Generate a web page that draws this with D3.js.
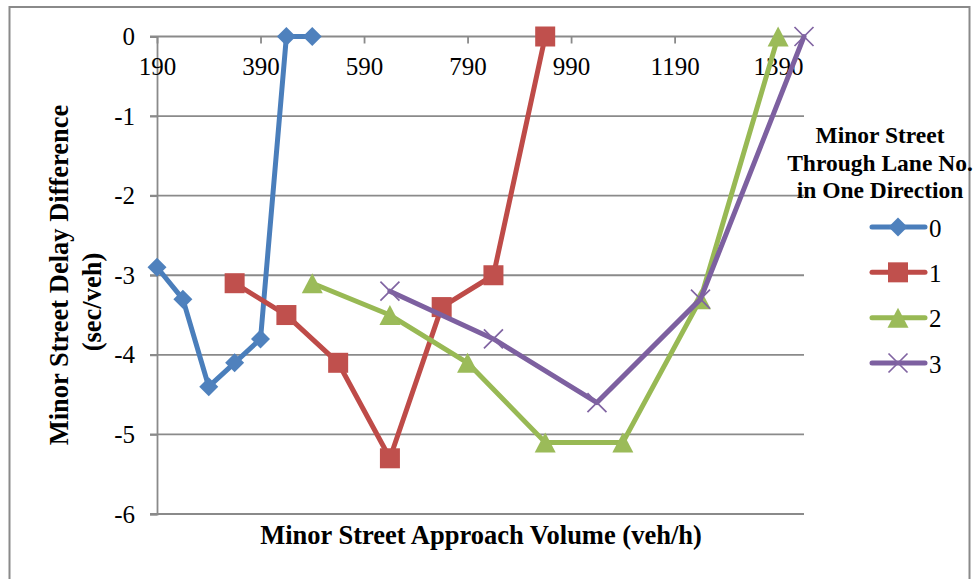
<!DOCTYPE html>
<html><head><meta charset="utf-8">
<script src="https://cdn.jsdelivr.net/npm/d3@7/dist/d3.min.js"></script>
<style>
html,body{margin:0;padding:0;background:#fff;}
svg{display:block;}
text{font-family:"Liberation Serif","Times New Roman",serif;fill:#000;}
</style></head>
<body>
<svg id="chart" width="977" height="579"></svg>
<script>
// ---- data ----
const seriesNames = ["0", "1", "2", "3"];
const x0 = [190, 240, 290, 340, 390, 440, 490];
const y0 = [-2.9, -3.3, -4.4, -4.1, -3.8, 0, 0];
const x1 = [340, 440, 540, 640, 740, 840, 940];
const y1 = [-3.1, -3.5, -4.1, -5.3, -3.4, -3.0, 0];
const x2 = [490, 640, 790, 940, 1090, 1240, 1390];
const y2 = [-3.1, -3.5, -4.1, -5.1, -5.1, -3.3, 0];
const x3 = [640, 840, 1040, 1240, 1440];
const y3 = [-3.2, -3.8, -4.6, -3.3, 0];
const xTicks = [190, 390, 590, 790, 990, 1190, 1390];
const yTicks = [0, -1, -2, -3, -4, -5, -6];
const xTitle = "Minor Street Approach Volume (veh/h)";
const yTitle1 = "Minor Street Delay Difference";
const yTitle2 = "(sec/veh)";
const legendTitle = ["Minor Street", "Through Lane No.", "in One Direction"];

const lineColors = ["#4a7ebb", "#be4b48", "#98b954", "#7d60a0"];
const markColors = ["#4f81bd", "#c0504d", "#9bbb59", "#8064a2"];
const markerTypes = ["diamond", "square", "triangle", "x"];

const series = [[x0,y0],[x1,y1],[x2,y2],[x3,y3]].map((p,i)=>({
  name: seriesNames[i],
  pts: p[0].map((x,j)=>({x, y: p[1][j]}))
}));

const svg = d3.select("#chart");
const gridColor = "#8a8a8a";

// outer border
svg.append("rect").attr("x",9.5).attr("y",7).attr("width",960).attr("height",600)
  .attr("fill","none").attr("stroke","#8a8a8a").attr("stroke-width",2);

const xScale = d3.scaleLinear().domain([190, 1440]).range([157, 804]);
const yScale = d3.scaleLinear().domain([-6, 0]).range([514, 36.5]);

// horizontal gridlines (with outward ticks on the left)
svg.append("g").selectAll("line").data(yTicks.filter(v=>v!==0)).join("line")
  .attr("x1", 150).attr("x2", xScale(1440))
  .attr("y1", d=>yScale(d)).attr("y2", d=>yScale(d))
  .attr("stroke", gridColor).attr("stroke-width", 1.8);

const fmt = d => String(d);

// y axis
const yAxis = d3.axisLeft(yScale).tickValues(yTicks).tickSize(7).tickPadding(15).tickFormat(fmt);
const gy = svg.append("g").attr("transform", `translate(${xScale(190)},0)`).call(yAxis);
gy.select(".domain").attr("stroke", gridColor).attr("stroke-width", 1.8);
gy.selectAll(".tick line").attr("stroke", gridColor).attr("stroke-width", 1.8);
gy.selectAll(".tick text").attr("font-size", 25).attr("font-family", "Liberation Serif").attr("fill","#000");

// x axis at y=0 with ticks pointing down
const xAxis = d3.axisBottom(xScale).tickValues(xTicks).tickSize(7).tickPadding(14).tickFormat(fmt);
const gx = svg.append("g").attr("transform", `translate(0,${yScale(0)})`).call(xAxis);
gx.select(".domain").attr("stroke", gridColor).attr("stroke-width", 1.8)
  .attr("d", `M${150},0H${xScale(1440)}`);
gx.selectAll(".tick line").attr("stroke", gridColor).attr("stroke-width", 1.8);
gx.selectAll(".tick text").attr("font-size", 25).attr("font-family", "Liberation Serif").attr("fill","#000");

// axis titles
svg.append("text").attr("x", 481).attr("y", 535).attr("text-anchor","middle")
  .attr("dominant-baseline","central").attr("font-size", 26.5).attr("font-weight","bold").text(xTitle);
svg.append("text").attr("transform","translate(59,275) rotate(-90)").attr("text-anchor","middle")
  .attr("dominant-baseline","central").attr("font-size", 26.5).attr("font-weight","bold").text(yTitle1);
svg.append("text").attr("transform","translate(92,302) rotate(-90)").attr("text-anchor","middle")
  .attr("dominant-baseline","central").attr("font-size", 26.5).attr("font-weight","bold").text(yTitle2);

// marker drawing
function drawMarker(g, type, color, cx, cy) {
  if (type === "diamond") {
    const s = 9.5;
    g.append("path").attr("d", `M${cx},${cy-s}L${cx+s},${cy}L${cx},${cy+s}L${cx-s},${cy}Z`).attr("fill", color);
  } else if (type === "square") {
    const s = 10;
    g.append("rect").attr("x", cx-s).attr("y", cy-s).attr("width", 2*s).attr("height", 2*s).attr("fill", color);
  } else if (type === "triangle") {
    const w = 10.5, h = 10;
    g.append("path").attr("d", `M${cx},${cy-h}L${cx+w},${cy+h}L${cx-w},${cy+h}Z`).attr("fill", color);
  } else {
    const s = 9.5;
    g.append("path").attr("d", `M${cx-s},${cy-s}L${cx+s},${cy+s}M${cx-s},${cy+s}L${cx+s},${cy-s}`)
      .attr("stroke", color).attr("stroke-width", 1.7).attr("fill","none");
  }
}

const line = d3.line().x(d=>xScale(d.x)).y(d=>yScale(d.y));
series.forEach((s,i)=>{
  const g = svg.append("g");
  g.append("path").attr("d", line(s.pts)).attr("fill","none")
    .attr("stroke", lineColors[i]).attr("stroke-width", 5)
    .attr("stroke-linejoin","round").attr("stroke-linecap","round");
  s.pts.forEach(p=> drawMarker(g, markerTypes[i], markColors[i], xScale(p.x), yScale(p.y)));
});

// legend
const lg = svg.append("g");
legendTitle.forEach((t,i)=>{
  lg.append("text").attr("x", 880).attr("y", 135 + i*27.5).attr("text-anchor","middle")
    .attr("dominant-baseline","central").attr("font-size", 23.5).attr("font-weight","bold").text(t);
});
const legendY = d3.scalePoint().domain(seriesNames).range([227, 363]);
seriesNames.forEach((n,i)=>{
  const y = legendY(n);
  lg.append("line").attr("x1", 872).attr("x2", 925).attr("y1", y).attr("y2", y)
    .attr("stroke", lineColors[i]).attr("stroke-width", 5).attr("stroke-linecap","round");
  drawMarker(lg, markerTypes[i], markColors[i], 898, y);
  lg.append("text").attr("x", 929).attr("y", y+1).attr("dominant-baseline","central")
    .attr("font-size", 25).text(n);
});
</script>
</body></html>
